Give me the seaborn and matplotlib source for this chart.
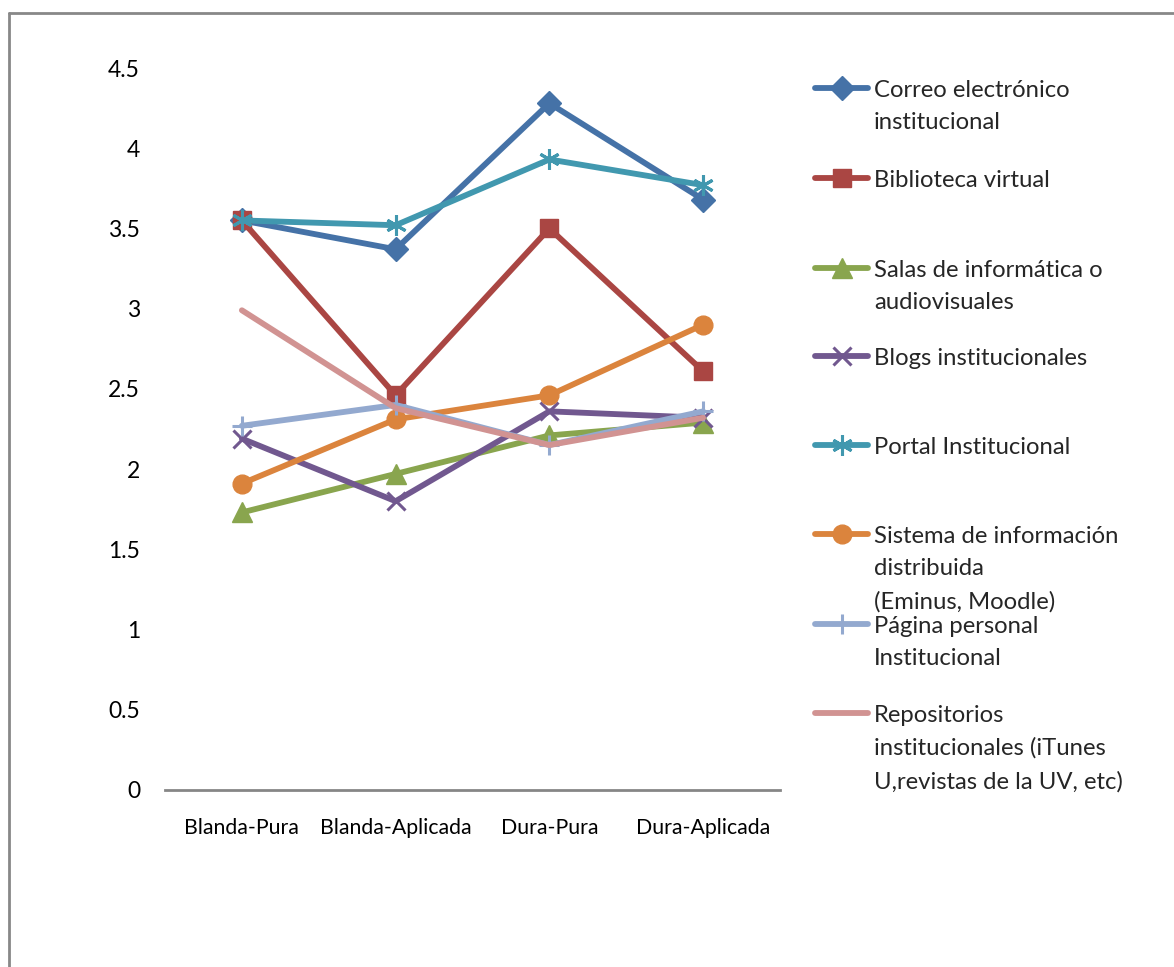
import matplotlib
matplotlib.use("Agg")
import matplotlib.pyplot as plt
from matplotlib.lines import Line2D
import seaborn as sns
import pandas as pd

sns.set_theme(style="white")
plt.rcParams["font.family"] = ["Lato", "DejaVu Sans"]

categories = ["Blanda-Pura", "Blanda-Aplicada", "Dura-Pura", "Dura-Aplicada"]

correo = [3.55, 3.37, 4.28, 3.68]
biblioteca = [3.55, 2.46, 3.50, 2.61]
salas = [1.73, 1.97, 2.21, 2.29]
blogs = [2.19, 1.80, 2.36, 2.32]
portal = [3.55, 3.52, 3.93, 3.77]
sistema = [1.91, 2.31, 2.46, 2.90]
pagina = [2.27, 2.40, 2.15, 2.36]
repositorios = [2.99, 2.38, 2.15, 2.32]

series_names = [
    "Correo electrónico\ninstitucional",
    "Biblioteca virtual",
    "Salas de informática o\naudiovisuales",
    "Blogs institucionales",
    "Portal Institucional",
    "Sistema de información\ndistribuida\n(Eminus, Moodle)",
    "Página personal\nInstitucional",
    "Repositorios\ninstitucionales (iTunes\nU,revistas de la UV, etc)",
]
series_values = [correo, biblioteca, salas, blogs, portal, sistema, pagina, repositorios]

colors = ["#4572A7", "#AA4643", "#89A54E", "#71588F", "#4198AF", "#DB843D", "#93A9CF", "#D19392"]
markers = ["D", "s", "^", "x", (6, 2, 0), "o", "+", None]
msizes = [12, 13.5, 14, 13, 15, 13.5, 14, 0]
LW = 4.2

rows = []
for name, vals in zip(series_names, series_values):
    for i, v in enumerate(vals):
        rows.append({"serie": name, "pos": i, "valor": v})
df = pd.DataFrame(rows)


def marker_kw(col, mk, ms):
    if mk is None:
        return {}
    thin = mk in ("x", "+", (6, 2, 0))
    return dict(marker=mk, markersize=ms, markeredgecolor=col, markerfacecolor=col,
                markeredgewidth=2.2 if thin else 1)


fig = plt.figure(figsize=(11.74, 9.67), dpi=100)
ax = fig.add_axes([165 / 1174, 1 - 790 / 967, 615 / 1174, 722 / 967])

for name, col, mk, ms in zip(series_names, colors, markers, msizes):
    sub = df[df["serie"] == name]
    sns.lineplot(data=sub, x="pos", y="valor", ax=ax, color=col, linewidth=LW,
                 solid_capstyle="round", solid_joinstyle="round", clip_on=False,
                 **marker_kw(col, mk, ms))

ax.set_xlim(-0.5, 3.5)
ax.set_ylim(0, 4.5)
ax.set_xticks(range(len(categories)))
ax.set_xticklabels(categories)
ax.set_yticks([0, 0.5, 1, 1.5, 2, 2.5, 3, 3.5, 4, 4.5])
ax.set_yticklabels(["0", "0.5", "1", "1.5", "2", "2.5", "3", "3.5", "4", "4.5"])
ax.set_xlabel("")
ax.set_ylabel("")
ax.tick_params(axis="x", length=0, labelsize=15.3, colors="black", pad=20)
ax.tick_params(axis="y", length=0, labelsize=16.5, colors="black", pad=18)
for s in ["top", "right", "left"]:
    ax.spines[s].set_visible(False)
ax.spines["bottom"].set_color("#868686")
ax.spines["bottom"].set_linewidth(2)
ax.grid(False)

# legend drawn at the right, one row per series
row_y = [88, 178, 268, 356, 445, 534, 624, 713]
for name, col, mk, ms, yp in zip(series_names, colors, markers, msizes, row_y):
    yf = 1 - yp / 967
    fig.add_artist(Line2D([815 / 1174, 868 / 1174], [yf, yf], transform=fig.transFigure,
                          color=col, linewidth=LW, solid_capstyle="round"))
    if mk is not None:
        fig.add_artist(Line2D([841.5 / 1174], [yf], transform=fig.transFigure, color=col,
                              **marker_kw(col, mk, ms)))
    fig.text(874 / 1174, 1 - (yp - 8) / 967, name, ha="left", va="top", fontsize=17.2,
             linespacing=1.66, transform=fig.transFigure)

# outer frame edges
fig.add_artist(Line2D([9 / 1174, 9 / 1174], [0, 1 - 13 / 967], transform=fig.transFigure,
                      color="#888888", linewidth=2))
fig.add_artist(Line2D([9 / 1174, 1], [1 - 13 / 967, 1 - 13 / 967], transform=fig.transFigure,
                      color="#888888", linewidth=2))

fig.savefig("out.png", dpi=100, facecolor="white")
